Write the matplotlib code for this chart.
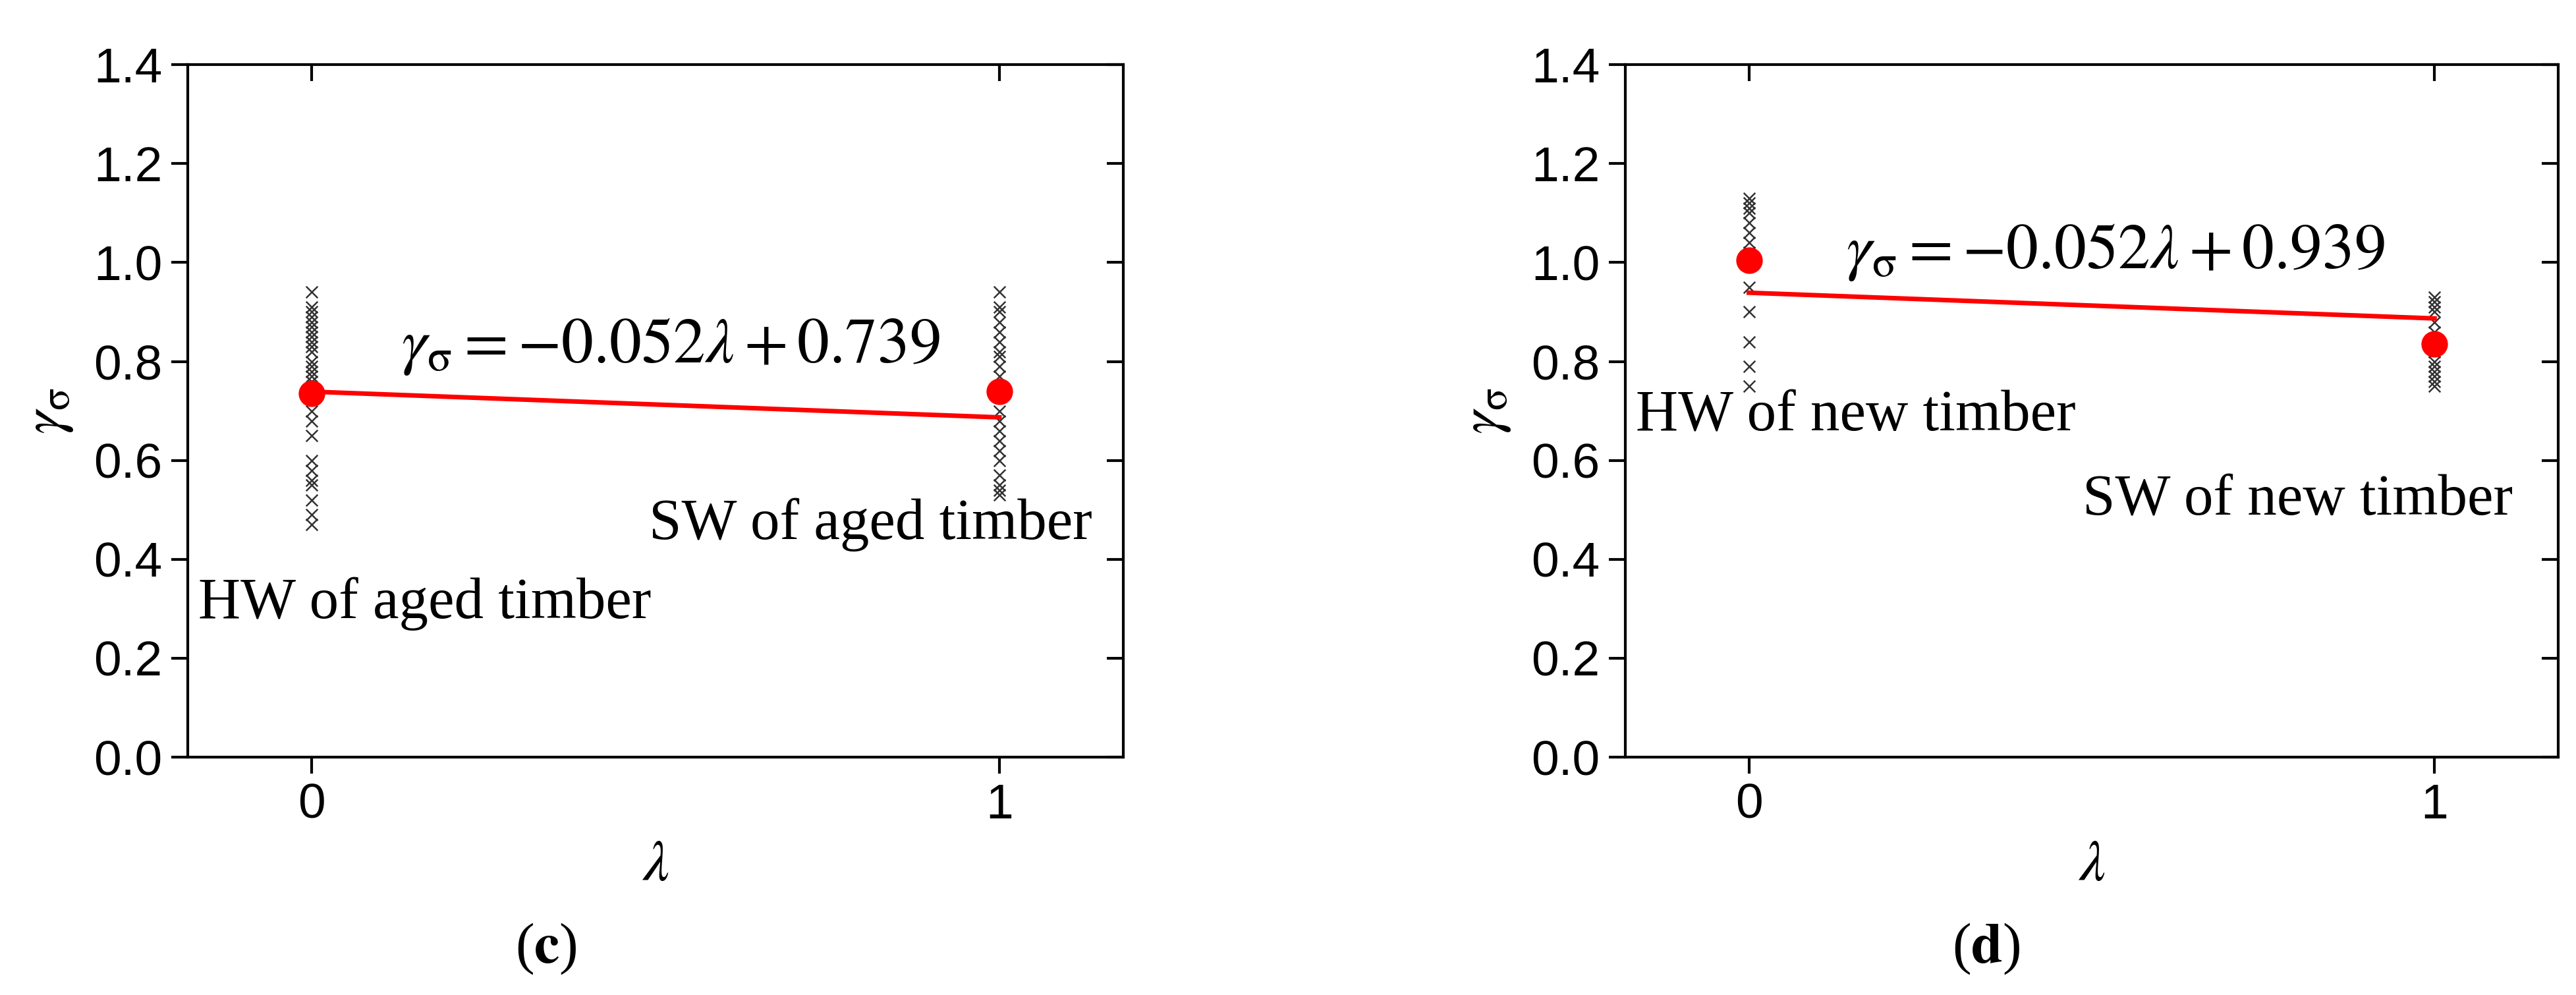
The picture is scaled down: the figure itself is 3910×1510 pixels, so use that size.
import matplotlib
matplotlib.use("Agg")
import matplotlib.pyplot as plt

plt.rcParams['mathtext.fontset'] = 'stix'
plt.rcParams['font.family'] = ['Liberation Sans', 'DejaVu Sans']

# (c) aged timber
aged_hw = [0.94, 0.91, 0.90, 0.89, 0.88, 0.87, 0.86, 0.85, 0.84, 0.83, 0.82, 0.80, 0.79,
           0.78, 0.77, 0.76, 0.70, 0.68, 0.65, 0.60, 0.58, 0.56, 0.55, 0.52, 0.49, 0.47]
aged_sw = [0.94, 0.91, 0.90, 0.88, 0.86, 0.84, 0.82, 0.81, 0.79, 0.77, 0.70, 0.68, 0.66,
           0.64, 0.62, 0.60, 0.57, 0.55, 0.54, 0.53]
aged_mean = [0.735, 0.74]
aged_fit = (-0.052, 0.739)

# (d) new timber
new_hw = [1.13, 1.12, 1.11, 1.10, 1.08, 1.06, 1.04, 1.02, 0.95, 0.90, 0.84, 0.79, 0.75]
new_sw = [0.93, 0.92, 0.91, 0.90, 0.88, 0.86, 0.84, 0.82, 0.80, 0.79, 0.78, 0.77, 0.76, 0.75]
new_mean = [1.005, 0.835]
new_fit = (-0.052, 0.939)

fig = plt.figure(figsize=(39.1, 15.1), dpi=100)

panels = [
    dict(rect=[0.073, 0.239, 0.363, 0.696], hw=aged_hw, sw=aged_sw, mean=aged_mean, fit=aged_fit,
         eq=r'$\gamma_{\mathrm{\sigma}} = -0.052\lambda + 0.739$', eq_xy=(0.13, 0.83),
         hw_txt='HW of aged timber', hw_xy=(-0.165, 0.31),
         sw_txt='SW of aged timber', sw_xy=(0.49, 0.47),
         tag='c', tag_x=0.212),
    dict(rect=[0.631, 0.239, 0.362, 0.696], hw=new_hw, sw=new_sw, mean=new_mean, fit=new_fit,
         eq=r'$\gamma_{\mathrm{\sigma}} = -0.052\lambda + 0.939$', eq_xy=(0.142, 1.02),
         hw_txt='HW of new timber', hw_xy=(-0.165, 0.69),
         sw_txt='SW of new timber', sw_xy=(0.487, 0.52),
         tag='d', tag_x=0.771),
]

for p in panels:
    ax = fig.add_axes(p['rect'])
    ax.scatter([0] * len(p['hw']), p['hw'], marker='x', s=160, color='#333333', linewidths=1.8, zorder=2)
    ax.scatter([1] * len(p['sw']), p['sw'], marker='x', s=160, color='#333333', linewidths=1.8, zorder=2)
    k, b = p['fit']
    ax.plot([0, 1], [b, k + b], color='red', lw=5, zorder=3)
    ax.plot([0, 1], p['mean'], 'o', color='red', ms=28, zorder=4)

    ax.set_xlim(-0.18, 1.18)
    ax.set_ylim(0, 1.4)
    ax.set_xticks([0, 1])
    ax.set_yticks([0, 0.2, 0.4, 0.6, 0.8, 1.0, 1.2, 1.4])
    ax.set_yticklabels(['0.0', '0.2', '0.4', '0.6', '0.8', '1.0', '1.2', '1.4'])
    ax.tick_params(axis='both', labelsize=54, length=18, width=3, pad=10)
    ax.tick_params(top=True, right=True, direction='out')
    for t in ax.xaxis.get_major_ticks():
        t.tick2line.set_marker(3)
    for t in ax.yaxis.get_major_ticks():
        t.tick2line.set_marker(0)
    for s in ax.spines.values():
        s.set_linewidth(3)

    ax.set_xlabel(r'$\lambda$', fontsize=64, labelpad=10)
    ax.set_ylabel(r'$\gamma_{\mathrm{\sigma}}$', fontsize=64, labelpad=20)

    ax.text(p['eq_xy'][0], p['eq_xy'][1], p['eq'], fontsize=70, va='center', ha='left')
    ax.text(p['hw_xy'][0], p['hw_xy'][1], p['hw_txt'], fontsize=64, va='center', ha='left',
            family='Liberation Serif')
    ax.text(p['sw_xy'][0], p['sw_xy'][1], p['sw_txt'], fontsize=64, va='center', ha='left',
            family='Liberation Serif')

    fig.text(p['tag_x'], 0.046, '(' + r'$\mathbf{' + p['tag'] + '}$' + ')', fontsize=62,
             ha='center', va='center', family='Liberation Serif')

fig.savefig('out.png', dpi=100)
